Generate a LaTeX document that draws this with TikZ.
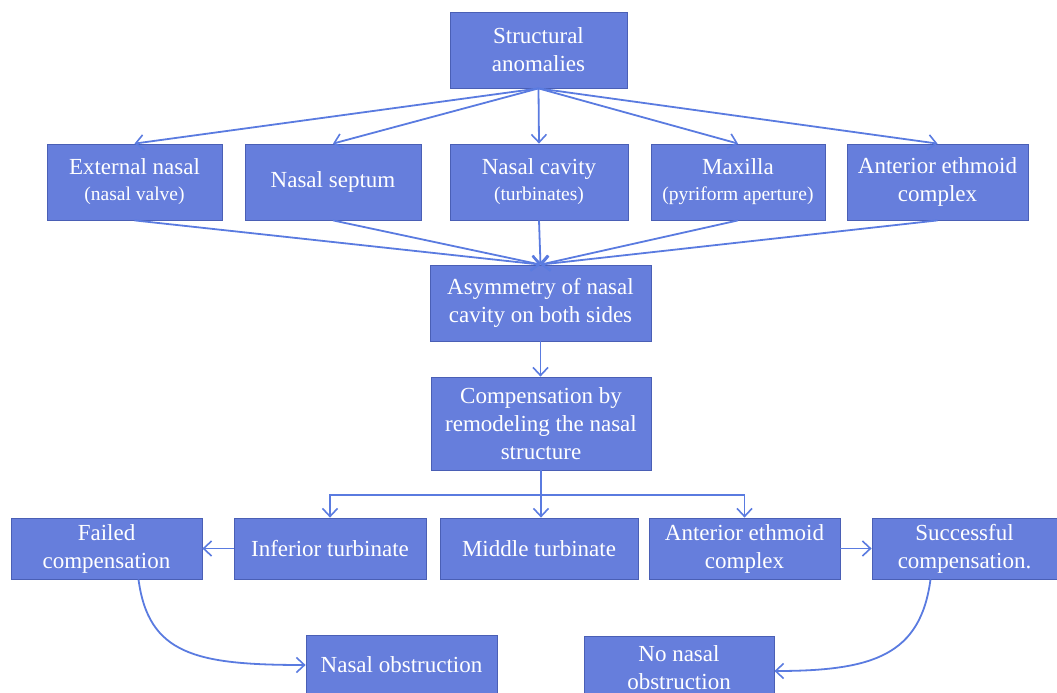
\documentclass[tikz,border=0pt]{standalone}
\usepackage{fontspec}
\setmainfont{Liberation Serif}
\definecolor{nsfill}{HTML}{667EDC}
\definecolor{nsline}{HTML}{4A5FB5}
\definecolor{nsarrow}{HTML}{5A7BE0}
\usetikzlibrary{arrows.meta,positioning}

\tikzset{
  blk/.style={draw=nsline,fill=nsfill,text=white,line width=0.8pt,inner sep=0pt,
    align=center,font=\fontsize{23}{28}\selectfont},
  flow/.style={draw=nsarrow,line width=1.8pt,
    -{Straight Barb[length=8pt,width=15pt,line width=1.6pt]}},
}
\newcommand{\subtxt}[1]{{\fontsize{19.5}{24}\selectfont #1}}

\begin{document}
\begin{tikzpicture}[x=1pt,y=-1pt]
\useasboundingbox (0,0) rectangle (1057,693);
% top level
\node[blk,minimum width=177,minimum height=76] (anom) at (538.5,50) {Structural\\anomalies};
% sites
\node[blk,minimum width=175,minimum height=76] (extn) at (134.5,182) {External nasal\\[-2pt]\subtxt{(nasal valve)}};
\node[blk,minimum width=176,minimum height=76] (sept) at (333,182) {Nasal septum};
\node[blk,minimum width=178,minimum height=76] (cavt) at (539,182) {Nasal cavity\\[-2pt]\subtxt{(turbinates)}};
\node[blk,minimum width=174,minimum height=76] (maxl) at (738,182) {Maxilla\\[-2pt]\subtxt{(pyriform aperture)}};
\node[blk,minimum width=181,minimum height=76] (ethm) at (937.5,182) {Anterior ethmoid\\complex};
% middle chain
\node[blk,minimum width=221,minimum height=76] (asym) at (540.5,303) {Asymmetry of nasal\\cavity on both sides};
\node[blk,minimum width=220,minimum height=93] (comp) at (541,423.5) {Compensation by\\remodeling the nasal\\structure};
% remodeling row
\node[blk,minimum width=191,minimum height=61] (fail) at (106.5,548.5) {Failed\\compensation};
\node[blk,minimum width=192,minimum height=61] (infr) at (330,548.5) {Inferior turbinate};
\node[blk,minimum width=198,minimum height=61] (midt) at (539,548.5) {Middle turbinate};
\node[blk,minimum width=191,minimum height=61] (ethr) at (744.5,548.5) {Anterior ethmoid\\complex};
\node[blk,minimum width=185,minimum height=61] (succ) at (964.5,548.5) {Successful\\compensation.};
% outcomes
\node[blk,minimum width=191,minimum height=60] (nobs) at (401.5,665) {Nasal obstruction};
\node[blk,minimum width=190,minimum height=64] (nono) at (679,668) {No nasal\\obstruction};

\foreach \s in {extn,sept,cavt,maxl,ethm}{
  \draw[flow] (anom.south) -- (\s.north);
  \draw[flow] (\s.south) -- (asym.north);
}
\draw[flow] (asym.south) -- (asym.south |- comp.north);
\coordinate (brk) at (541,495);
\draw[flow] (comp.south) -- (comp.south |- midt.north);
\draw[flow] (brk) -| (infr.north);
\draw[flow] (brk) -| (ethr.north);
\draw[flow] (infr.west) -- (fail.east);
\draw[flow] (ethr.east) -- (succ.west);
\draw[flow] ([xshift=32pt]fail.south) .. controls +(10,75) and +(-110,0) .. (nobs.west);
\draw[flow] ([xshift=-34pt]succ.south) .. controls +(-10,75) and +(100,0) .. ([yshift=-3pt]nono.east);
\end{tikzpicture}
\end{document}
